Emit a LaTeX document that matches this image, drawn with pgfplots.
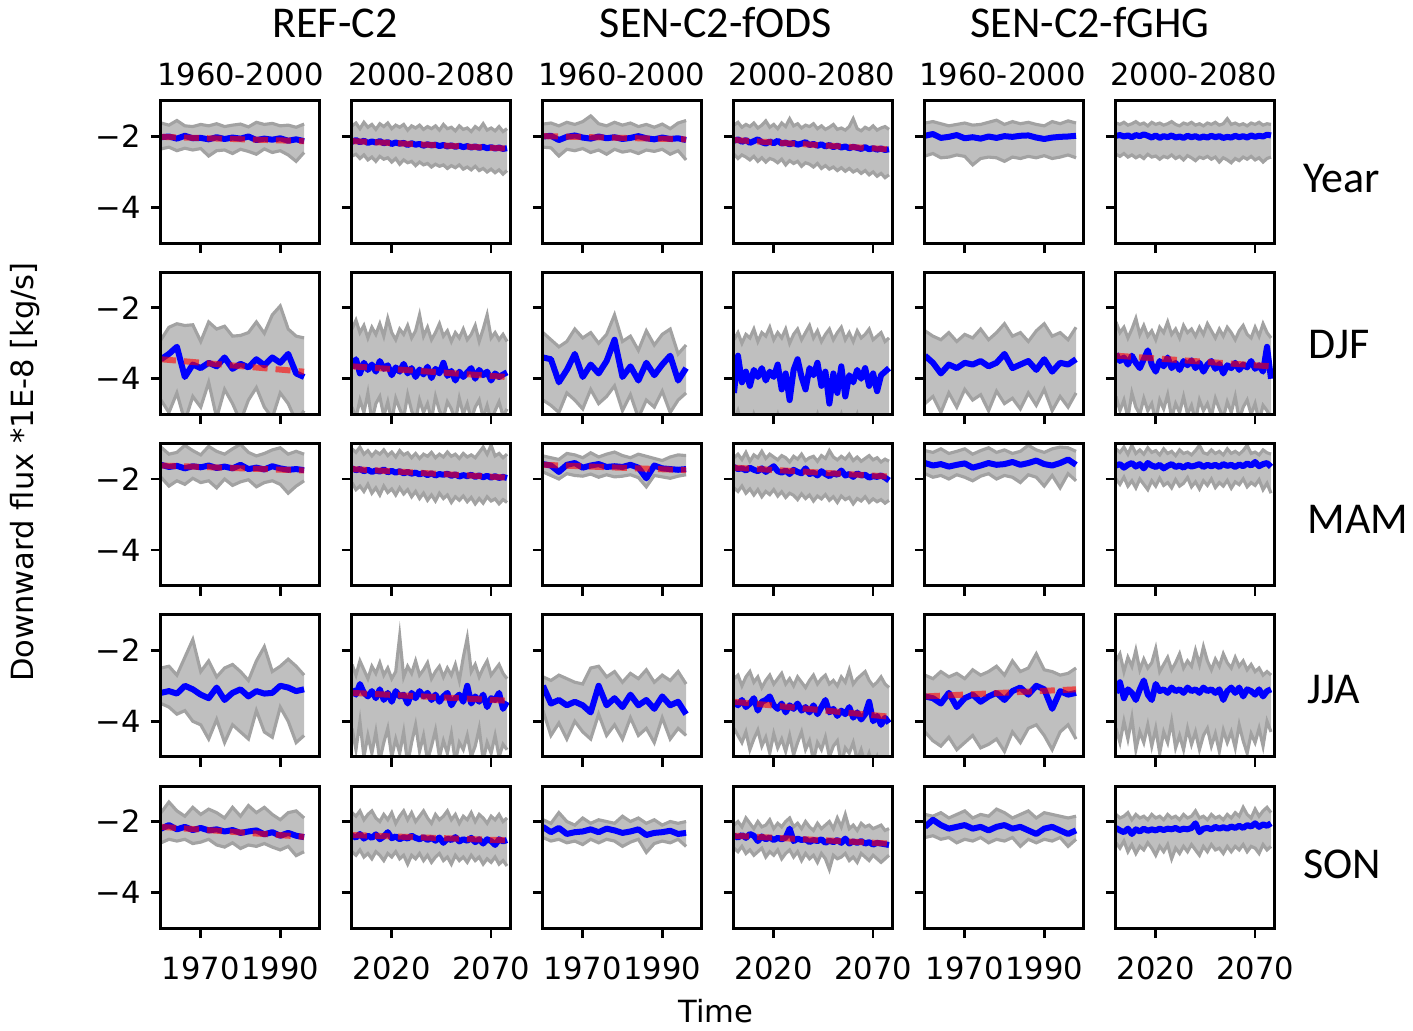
\documentclass[border=0pt]{standalone}
\usepackage{fontspec}
\setmainfont{DejaVu Sans}
\newfontfamily\carlito{Carlito}
\usepackage{pgfplots}
\usepackage{pgfplotstable}
\pgfplotsset{compat=1.18}
\usepgfplotslibrary{groupplots,fillbetween}
\usetikzlibrary{calc}
\definecolor{bandfill}{RGB}{191,191,191}
\definecolor{edgegray}{RGB}{162,162,162}
\newcommand\tickfont{\fontsize{10.7}{12.8}\selectfont}
\newcommand\bigfont{\carlito\fontsize{15.4}{18}\selectfont}

% ---------------- Year ----------------
\pgfplotstableread{
x b l h
1960 -2.02 -2.35 -1.62
1962 -2.00 -2.30 -1.68
1964 -2.06 -2.40 -1.55
1966 -1.98 -2.33 -1.70
1968 -2.05 -2.38 -1.72
1970 -2.04 -2.34 -1.66
1972 -2.08 -2.55 -1.70
1974 -2.02 -2.40 -1.64
1976 -2.07 -2.38 -1.72
1978 -2.03 -2.48 -1.68
1980 -2.06 -2.36 -1.65
1982 -2.00 -2.42 -1.73
1984 -2.10 -2.50 -1.60
1986 -2.06 -2.35 -1.66
1988 -2.09 -2.45 -1.63
1990 -2.05 -2.40 -1.70
1992 -2.12 -2.52 -1.68
1994 -2.08 -2.70 -1.74
1996 -2.13 -2.45 -1.65
}\tYa
\pgfplotstableread{
x b l h
2000 -2.15 -2.55 -1.70
2002 -2.10 -2.50 -1.62
2004 -2.16 -2.62 -1.78
2006 -2.12 -2.52 -1.60
2008 -2.18 -2.66 -1.74
2010 -2.14 -2.58 -1.66
2012 -2.17 -2.70 -1.80
2014 -2.13 -2.56 -1.64
2016 -2.19 -2.64 -1.72
2018 -2.16 -2.60 -1.62
2020 -2.21 -2.72 -1.78
2022 -2.17 -2.62 -1.68
2024 -2.20 -2.78 -1.74
2026 -2.18 -2.66 -1.66
2028 -2.24 -2.74 -1.82
2030 -2.19 -2.70 -1.70
2032 -2.23 -2.82 -1.76
2034 -2.21 -2.72 -1.68
2036 -2.26 -2.80 -1.80
2038 -2.22 -2.76 -1.72
2040 -2.25 -2.86 -1.78
2042 -2.23 -2.78 -1.70
2044 -2.27 -2.84 -1.82
2046 -2.24 -2.80 -1.66
2048 -2.28 -2.90 -1.78
2050 -2.25 -2.82 -1.74
2052 -2.29 -2.88 -1.84
2054 -2.26 -2.80 -1.70
2056 -2.30 -2.92 -1.80
2058 -2.27 -2.86 -1.76
2060 -2.31 -2.94 -1.86
2062 -2.28 -2.84 -1.72
2064 -2.32 -2.96 -1.80
2066 -2.29 -2.90 -1.64
2068 -2.33 -3.00 -1.82
2070 -2.30 -2.92 -1.76
2072 -2.34 -3.02 -1.84
2074 -2.31 -2.94 -1.72
2076 -2.35 -3.06 -1.86
2078 -2.33 -2.96 -1.78
}\tYb
\pgfplotstableread{
x b l h
1960 -2.00 -2.30 -1.65
1962 -1.98 -2.32 -1.62
1964 -2.10 -2.55 -1.70
1966 -2.01 -2.36 -1.60
1968 -1.97 -2.40 -1.66
1970 -2.03 -2.34 -1.58
1972 -2.06 -2.45 -1.42
1974 -2.00 -2.38 -1.64
1976 -2.05 -2.50 -1.70
1978 -2.02 -2.36 -1.60
1980 -2.07 -2.44 -1.68
1982 -2.04 -2.40 -1.62
1984 -1.99 -2.48 -1.72
1986 -2.05 -2.38 -1.66
1988 -2.08 -2.42 -1.74
1990 -2.03 -2.36 -1.65
1992 -2.07 -2.50 -1.78
1994 -2.05 -2.40 -1.62
1996 -2.10 -2.66 -1.55
}\tYc
\pgfplotstableread{
x b l h
2000 -2.12 -2.50 -1.68
2002 -2.08 -2.62 -1.60
2004 -2.15 -2.52 -1.74
2006 -2.10 -2.58 -1.66
2008 -2.18 -2.66 -1.72
2010 -2.13 -2.56 -1.62
2012 -2.08 -2.70 -1.76
2014 -2.16 -2.60 -1.68
2016 -2.20 -2.72 -1.56
2018 -2.14 -2.62 -1.74
2020 -2.19 -2.66 -1.66
2022 -2.12 -2.74 -1.78
2024 -2.20 -2.64 -1.62
2026 -2.17 -2.80 -1.72
2028 -2.22 -2.68 -1.50
2030 -2.18 -2.76 -1.70
2032 -2.23 -2.70 -1.64
2034 -2.20 -2.84 -1.76
2036 -2.16 -2.74 -1.68
2038 -2.24 -2.78 -1.72
2040 -2.21 -2.86 -1.64
2042 -2.26 -2.76 -1.78
2044 -2.22 -2.90 -1.70
2046 -2.28 -2.82 -1.80
2048 -2.24 -2.92 -1.74
2050 -2.30 -2.86 -1.66
2052 -2.26 -2.96 -1.80
2054 -2.31 -2.88 -1.76
2056 -2.28 -2.98 -1.82
2058 -2.33 -2.90 -1.72
2060 -2.29 -3.00 -1.50
2062 -2.32 -2.94 -1.78
2064 -2.35 -3.04 -1.84
2066 -2.30 -2.96 -1.74
2068 -2.36 -3.08 -1.80
2070 -2.33 -3.00 -1.70
2072 -2.37 -3.12 -1.82
2074 -2.34 -3.04 -1.76
2076 -2.38 -3.16 -1.72
2078 -2.36 -3.08 -1.80
}\tYd
\pgfplotstableread{
x b l h
1960 -1.98 -2.55 -1.62
1962 -1.93 -2.48 -1.58
1964 -2.04 -2.60 -1.64
1966 -2.01 -2.58 -1.70
1968 -1.96 -2.52 -1.66
1970 -2.05 -2.56 -1.62
1972 -2.02 -2.80 -1.68
1974 -2.06 -2.62 -1.66
1976 -2.00 -2.58 -1.60
1978 -2.04 -2.60 -1.54
1980 -1.99 -2.70 -1.66
1982 -2.01 -2.58 -1.58
1984 -1.98 -2.62 -1.64
1986 -1.97 -2.56 -1.60
1988 -2.03 -2.60 -1.66
1990 -2.07 -2.54 -1.70
1992 -2.03 -2.62 -1.58
1994 -2.01 -2.58 -1.64
1996 -2.00 -2.52 -1.56
1998 -1.98 -2.60 -1.62
}\tYe
\pgfplotstableread{
x b l h
2000 -1.98 -2.50 -1.62
2002 -1.96 -2.56 -1.66
2004 -2.00 -2.48 -1.60
2006 -1.97 -2.58 -1.68
2008 -2.02 -2.52 -1.64
2010 -1.96 -2.60 -1.58
2012 -1.99 -2.54 -1.66
2014 -1.94 -2.62 -1.62
2016 -1.98 -2.50 -1.70
2018 -2.03 -2.58 -1.60
2020 -1.97 -2.55 -1.66
2022 -2.04 -2.64 -1.62
2024 -1.99 -2.56 -1.68
2026 -2.02 -2.60 -1.64
2028 -1.97 -2.52 -1.58
2030 -2.03 -2.62 -1.66
2032 -2.00 -2.56 -1.70
2034 -2.04 -2.66 -1.62
2036 -1.98 -2.54 -1.66
2038 -2.02 -2.60 -1.60
2040 -1.99 -2.68 -1.68
2042 -2.04 -2.58 -1.64
2044 -2.00 -2.62 -1.70
2046 -2.03 -2.56 -1.62
2048 -1.98 -2.64 -1.66
2050 -2.02 -2.58 -1.60
2052 -1.99 -2.72 -1.68
2054 -2.04 -2.60 -1.64
2056 -2.01 -2.66 -1.50
2058 -2.03 -2.74 -1.66
2060 -1.98 -2.62 -1.62
2062 -2.02 -2.68 -1.68
2064 -1.99 -2.58 -1.64
2066 -2.03 -2.64 -1.70
2068 -1.97 -2.56 -1.62
2070 -2.01 -2.66 -1.66
2072 -1.98 -2.60 -1.60
2074 -2.00 -2.72 -1.68
2076 -1.95 -2.62 -1.64
2078 -1.97 -2.58 -1.66
}\tYf
% ---------------- DJF ----------------
\pgfplotstableread{
x b l h
1960 -3.45 -4.60 -2.90
1962 -3.30 -4.95 -2.55
1964 -3.10 -4.40 -2.45
1966 -3.95 -5.20 -2.50
1968 -3.60 -4.50 -2.48
1970 -3.70 -4.80 -2.95
1972 -3.55 -4.10 -2.40
1974 -3.65 -5.10 -2.60
1976 -3.40 -4.30 -2.52
1978 -3.72 -4.70 -2.80
1980 -3.58 -5.20 -2.78
1982 -3.68 -4.60 -2.70
1984 -3.45 -4.25 -2.40
1986 -3.62 -4.80 -2.72
1988 -3.40 -5.10 -2.20
1990 -3.55 -4.40 -1.95
1992 -3.30 -4.70 -2.60
1994 -3.85 -5.20 -2.80
1996 -3.95 -4.90 -2.85
}\tDa
\pgfplotstableread{
x b l h
2000 -3.70 -4.80 -2.60
2002 -3.45 -5.10 -2.35
2004 -3.85 -4.60 -2.70
2006 -3.55 -4.95 -2.50
2008 -3.75 -4.40 -2.85
2010 -3.60 -5.20 -2.55
2012 -3.80 -4.70 -2.75
2014 -3.50 -4.50 -2.45
2016 -3.72 -5.05 -2.80
2018 -3.62 -4.65 -2.30
2020 -3.90 -5.20 -2.70
2022 -3.68 -4.55 -2.90
2024 -3.80 -4.85 -2.60
2026 -3.58 -5.10 -2.75
2028 -3.85 -4.45 -2.50
2030 -3.70 -4.90 -2.85
2032 -3.95 -5.20 -2.65
2034 -3.74 -4.60 -2.20
2036 -3.88 -4.95 -2.80
2038 -3.66 -4.70 -2.55
2040 -3.98 -5.15 -2.90
2042 -3.72 -4.50 -2.70
2044 -3.85 -4.90 -2.45
2046 -3.55 -5.10 -2.80
2048 -3.92 -4.65 -2.65
2050 -3.78 -4.85 -2.95
2052 -4.05 -5.20 -2.70
2054 -3.80 -4.55 -2.85
2056 -3.95 -5.00 -2.60
2058 -3.82 -4.70 -2.90
2060 -3.70 -5.15 -2.75
2062 -4.00 -4.80 -2.50
2064 -3.75 -4.60 -2.95
2066 -3.90 -5.10 -2.60
2068 -3.80 -4.75 -2.20
2070 -4.05 -5.20 -2.85
2072 -3.85 -4.90 -2.70
2074 -3.95 -4.65 -2.90
2076 -3.88 -5.05 -2.75
2078 -3.82 -4.85 -2.95
}\tDb
\pgfplotstableread{
x b l h
1960 -3.40 -4.60 -2.70
1962 -3.45 -4.75 -2.90
1964 -4.10 -4.95 -3.10
1966 -3.75 -4.40 -2.95
1968 -3.30 -4.60 -2.60
1970 -3.95 -4.85 -2.85
1972 -3.60 -4.30 -2.70
1974 -3.85 -4.70 -3.00
1976 -3.50 -4.50 -2.75
1978 -2.90 -4.20 -2.20
1980 -3.95 -4.90 -2.95
1982 -3.65 -4.45 -2.80
1984 -4.05 -5.10 -3.20
1986 -3.55 -4.60 -2.65
1988 -3.90 -4.80 -3.05
1990 -3.60 -4.35 -2.75
1992 -3.35 -4.95 -2.60
1994 -4.05 -4.60 -3.30
1996 -3.70 -4.40 -3.05
}\tDc
\pgfplotstableread{
x b l h
2000 -4.40 -5.20 -2.90
2002 -3.35 -4.90 -2.70
2004 -4.10 -5.30 -3.00
2006 -3.80 -5.10 -2.75
2008 -4.20 -5.40 -2.85
2010 -3.75 -5.00 -2.60
2012 -3.95 -5.30 -2.95
2014 -3.70 -5.20 -2.70
2016 -4.05 -5.40 -2.80
2018 -3.80 -5.10 -2.55
2020 -3.95 -5.30 -2.90
2022 -3.60 -5.00 -2.70
2024 -4.30 -5.40 -2.85
2026 -3.85 -5.20 -2.60
2028 -4.60 -5.50 -3.00
2030 -3.75 -5.10 -2.75
2032 -3.45 -5.30 -2.60
2034 -3.95 -5.20 -2.90
2036 -4.30 -5.40 -2.70
2038 -3.70 -5.10 -2.50
2040 -3.90 -5.30 -2.85
2042 -3.55 -5.00 -2.65
2044 -4.20 -5.40 -2.95
2046 -3.80 -5.20 -2.75
2048 -4.70 -5.50 -2.60
2050 -3.85 -5.10 -2.90
2052 -4.40 -5.30 -2.70
2054 -3.65 -5.00 -2.55
2056 -4.50 -5.40 -2.90
2058 -3.90 -5.20 -2.70
2060 -4.10 -5.30 -2.95
2062 -3.75 -5.00 -2.65
2064 -4.00 -5.40 -2.85
2066 -3.70 -5.10 -2.75
2068 -4.20 -5.30 -2.60
2070 -3.85 -5.20 -2.90
2072 -4.35 -5.40 -2.80
2074 -3.90 -5.10 -2.70
2076 -3.80 -5.30 -2.95
2078 -3.70 -5.10 -2.85
}\tDd
\pgfplotstableread{
x b l h
1960 -3.35 -4.70 -2.65
1962 -3.55 -4.50 -2.80
1964 -3.85 -4.95 -2.90
1966 -3.60 -4.40 -2.70
1968 -3.70 -4.80 -2.95
1970 -3.55 -4.30 -2.75
1972 -3.60 -4.60 -2.85
1974 -3.50 -4.45 -2.60
1976 -3.65 -4.90 -2.90
1978 -3.55 -4.35 -2.70
1980 -3.30 -4.70 -2.45
1982 -3.70 -4.55 -2.80
1984 -3.60 -4.85 -2.70
1986 -3.50 -4.40 -2.95
1988 -3.75 -4.75 -2.65
1990 -3.45 -4.30 -2.45
1992 -3.80 -4.90 -2.80
1994 -3.55 -4.50 -2.70
1996 -3.60 -4.80 -2.90
1998 -3.45 -4.40 -2.55
}\tDe
\pgfplotstableread{
x b l h
2000 -3.30 -4.50 -2.40
2002 -3.50 -4.90 -2.70
2004 -3.40 -4.60 -2.55
2006 -3.60 -5.10 -2.85
2008 -3.35 -4.40 -2.60
2010 -3.55 -4.80 -2.30
2012 -3.70 -5.00 -2.75
2014 -3.45 -4.55 -2.50
2016 -3.20 -4.90 -2.80
2018 -3.60 -4.70 -2.65
2020 -3.80 -5.20 -2.90
2022 -3.50 -4.60 -2.55
2024 -3.65 -4.85 -2.70
2026 -3.40 -4.45 -2.40
2028 -3.70 -5.10 -2.75
2030 -3.55 -4.70 -2.60
2032 -3.75 -4.95 -2.85
2034 -3.50 -4.50 -2.50
2036 -3.62 -5.00 -2.70
2038 -3.48 -4.75 -2.60
2040 -3.70 -5.20 -2.80
2042 -3.55 -4.60 -2.55
2044 -3.80 -4.90 -2.75
2046 -3.60 -4.70 -2.45
2048 -3.50 -5.05 -2.65
2050 -3.72 -4.55 -2.85
2052 -3.58 -4.85 -2.60
2054 -3.85 -5.10 -2.80
2056 -3.62 -4.65 -2.55
2058 -3.70 -4.95 -2.70
2060 -3.55 -4.50 -2.90
2062 -3.75 -5.15 -2.65
2064 -3.60 -4.80 -2.50
2066 -3.68 -4.60 -2.75
2068 -3.50 -5.00 -2.85
2070 -3.72 -4.70 -2.55
2072 -3.62 -5.20 -2.80
2074 -3.80 -4.75 -2.45
2076 -3.10 -4.90 -2.70
2078 -4.00 -5.10 -2.85
}\tDf
% ---------------- MAM ----------------
\pgfplotstableread{
x b l h
1960 -1.60 -1.95 -1.10
1962 -1.66 -2.20 -1.30
1964 -1.63 -2.05 -1.25
1966 -1.70 -2.15 -1.05
1968 -1.64 -1.98 -1.20
1970 -1.67 -2.10 -1.32
1972 -1.62 -2.05 -1.08
1974 -1.69 -2.25 -1.22
1976 -1.65 -2.00 -1.30
1978 -1.70 -2.18 -1.15
1980 -1.60 -2.08 -1.02
1982 -1.72 -2.02 -1.25
1984 -1.68 -2.22 -1.35
1986 -1.73 -2.10 -1.28
1988 -1.64 -2.05 -1.18
1990 -1.70 -2.15 -1.12
1992 -1.74 -2.40 -1.30
1994 -1.72 -2.20 -1.22
1996 -1.75 -2.05 -1.30
}\tMa
\pgfplotstableread{
x b l h
2000 -1.70 -2.10 -1.15
2002 -1.75 -2.30 -1.25
2004 -1.72 -2.20 -1.10
2006 -1.78 -2.35 -1.30
2008 -1.74 -2.15 -1.20
2010 -1.80 -2.40 -1.35
2012 -1.76 -2.25 -1.22
2014 -1.79 -2.45 -1.30
2016 -1.73 -2.20 -1.18
2018 -1.81 -2.38 -1.34
2020 -1.77 -2.28 -1.24
2022 -1.82 -2.45 -1.38
2024 -1.78 -2.25 -1.20
2026 -1.84 -2.42 -1.32
2028 -1.80 -2.30 -1.26
2030 -1.85 -2.50 -1.40
2032 -1.82 -2.35 -1.28
2034 -1.87 -2.55 -1.42
2036 -1.83 -2.40 -1.30
2038 -1.89 -2.60 -1.36
2040 -1.84 -2.45 -1.25
2042 -1.90 -2.62 -1.40
2044 -1.86 -2.40 -1.30
2046 -1.88 -2.55 -1.38
2048 -1.85 -2.45 -1.24
2050 -1.91 -2.66 -1.36
2052 -1.87 -2.50 -1.30
2054 -1.93 -2.60 -1.42
2056 -1.89 -2.48 -1.28
2058 -1.92 -2.64 -1.38
2060 -1.88 -2.52 -1.32
2062 -1.94 -2.70 -1.40
2064 -1.90 -2.55 -1.25
2066 -1.95 -2.68 -1.10
2068 -1.91 -2.50 -1.30
2070 -1.96 -2.62 -1.05
2072 -1.92 -2.56 -1.35
2074 -1.97 -2.70 -1.28
2076 -1.94 -2.58 -1.40
2078 -1.97 -2.66 -1.30
}\tMb
\pgfplotstableread{
x b l h
1960 -1.58 -1.80 -1.35
1962 -1.62 -1.90 -1.40
1964 -1.80 -2.00 -1.45
1966 -1.60 -1.85 -1.28
1968 -1.55 -1.90 -1.32
1970 -1.68 -1.92 -1.40
1972 -1.62 -1.86 -1.26
1974 -1.58 -1.95 -1.38
1976 -1.66 -1.88 -1.30
1978 -1.64 -1.94 -1.24
1980 -1.66 -1.92 -1.34
1982 -1.60 -1.88 -1.40
1984 -1.68 -1.96 -1.30
1986 -1.98 -2.22 -1.36
1988 -1.62 -1.90 -1.42
1990 -1.70 -1.94 -1.48
1992 -1.72 -1.98 -1.38
1994 -1.74 -1.92 -1.32
1996 -1.72 -1.88 -1.34
}\tMc
\pgfplotstableread{
x b l h
2000 -1.66 -2.25 -1.40
2002 -1.72 -2.35 -1.30
2004 -1.70 -2.20 -1.45
2006 -1.76 -2.40 -1.25
2008 -1.68 -2.28 -1.50
2010 -1.74 -2.45 -1.32
2012 -1.78 -2.30 -1.40
2014 -1.70 -2.50 -1.22
2016 -1.80 -2.35 -1.42
2018 -1.72 -2.44 -1.30
2020 -1.64 -2.30 -1.38
2022 -1.78 -2.48 -1.46
2024 -1.82 -2.36 -1.34
2026 -1.76 -2.52 -1.40
2028 -1.86 -2.40 -1.52
2030 -1.74 -2.46 -1.36
2032 -1.80 -2.58 -1.44
2034 -1.84 -2.42 -1.30
2036 -1.70 -2.55 -1.48
2038 -1.86 -2.45 -1.40
2040 -1.82 -2.62 -1.36
2042 -1.90 -2.48 -1.50
2044 -1.78 -2.56 -1.34
2046 -1.86 -2.44 -1.42
2048 -1.92 -2.60 -1.20
2050 -1.84 -2.50 -1.38
2052 -1.88 -2.66 -1.46
2054 -1.76 -2.48 -1.36
2056 -1.90 -2.58 -1.44
2058 -1.86 -2.52 -1.30
2060 -1.94 -2.70 -1.48
2062 -1.84 -2.55 -1.38
2064 -1.90 -2.62 -1.50
2066 -1.88 -2.50 -1.42
2068 -1.96 -2.66 -1.34
2070 -1.92 -2.56 -1.46
2072 -1.94 -2.64 -1.40
2074 -1.90 -2.58 -1.52
2076 -1.96 -2.68 -1.44
2078 -2.04 -2.60 -1.50
}\tMd
\pgfplotstableread{
x b l h
1960 -1.55 -1.85 -1.20
1962 -1.62 -1.95 -1.25
1964 -1.58 -1.90 -1.15
1966 -1.65 -2.00 -1.28
1968 -1.60 -1.88 -1.22
1970 -1.56 -1.95 -1.15
1972 -1.68 -2.05 -1.30
1974 -1.62 -1.92 -1.20
1976 -1.55 -1.85 -1.12
1978 -1.60 -2.00 -1.25
1980 -1.58 -1.90 -1.18
1982 -1.52 -1.95 -1.28
1984 -1.60 -2.10 -1.22
1986 -1.55 -1.88 -1.05
1988 -1.48 -1.95 -1.18
1990 -1.58 -2.20 -1.25
1992 -1.62 -1.90 -1.15
1994 -1.55 -2.25 -1.10
1996 -1.45 -1.85 -1.12
1998 -1.60 -2.05 -1.22
}\tMe
\pgfplotstableread{
x b l h
2000 -1.62 -2.00 -1.15
2002 -1.58 -2.15 -1.25
2004 -1.68 -1.95 -1.10
2006 -1.60 -2.20 -1.30
2008 -1.55 -2.05 -1.05
2010 -1.65 -2.25 -1.28
2012 -1.58 -2.00 -1.18
2014 -1.70 -2.15 -1.30
2016 -1.55 -2.30 -1.12
2018 -1.62 -2.05 -1.25
2020 -1.66 -2.20 -1.20
2022 -1.60 -1.98 -1.32
2024 -1.70 -2.18 -1.15
2026 -1.63 -2.10 -1.28
2028 -1.58 -2.25 -1.22
2030 -1.66 -2.02 -1.34
2032 -1.62 -2.20 -1.18
2034 -1.68 -2.12 -1.28
2036 -1.60 -1.96 -1.24
2038 -1.65 -2.22 -1.32
2040 -1.62 -2.08 -1.20
2042 -1.58 -2.28 -1.05
2044 -1.66 -2.05 -1.26
2046 -1.60 -2.18 -1.30
2048 -1.64 -2.00 -1.18
2050 -1.60 -2.24 -1.28
2052 -1.66 -2.10 -1.22
2054 -1.58 -2.20 -1.32
2056 -1.63 -2.04 -1.15
2058 -1.60 -2.26 -1.28
2060 -1.66 -2.08 -1.22
2062 -1.59 -2.16 -1.30
2064 -1.64 -2.00 -1.20
2066 -1.56 -2.22 -1.05
2068 -1.62 -2.10 -1.28
2070 -1.52 -2.18 -1.24
2072 -1.64 -2.02 -1.32
2074 -1.58 -2.30 -1.18
2076 -1.55 -2.12 -1.26
2078 -1.66 -2.40 -1.30
}\tMf
% ---------------- JJA ----------------
\pgfplotstableread{
x b l h
1960 -3.20 -3.50 -2.50
1962 -3.15 -3.60 -2.45
1964 -3.22 -3.80 -2.70
1966 -3.00 -3.70 -2.20
1968 -3.10 -4.00 -1.70
1970 -3.25 -4.10 -2.60
1972 -3.35 -4.50 -2.30
1974 -3.05 -3.95 -2.75
1976 -3.40 -4.60 -2.50
1978 -3.20 -4.10 -2.40
1980 -3.10 -4.30 -2.60
1982 -3.30 -4.50 -2.85
1984 -3.15 -3.70 -2.30
1986 -3.22 -4.30 -1.90
1988 -3.20 -4.45 -2.60
1990 -3.00 -3.60 -2.45
1992 -3.05 -4.00 -2.25
1994 -3.15 -4.60 -2.45
1996 -3.10 -4.40 -2.70
}\tJa
\pgfplotstableread{
x b l h
2000 -3.10 -4.20 -2.40
2002 -3.25 -4.80 -2.70
2004 -2.95 -4.00 -2.30
2006 -3.20 -5.00 -2.55
2008 -3.30 -4.40 -2.80
2010 -3.15 -4.90 -2.45
2012 -3.35 -4.30 -2.65
2014 -3.10 -5.10 -2.35
2016 -3.40 -4.60 -2.70
2018 -3.20 -4.20 -2.50
2020 -3.45 -5.00 -2.80
2022 -3.15 -4.50 -2.60
2024 -3.30 -4.90 -1.60
2026 -3.25 -4.30 -2.75
2028 -3.50 -5.20 -2.45
2030 -3.20 -4.60 -2.65
2032 -3.35 -4.10 -2.30
2034 -3.15 -4.85 -2.70
2036 -3.30 -4.40 -2.55
2038 -3.20 -5.10 -2.35
2040 -3.40 -4.70 -2.80
2042 -3.25 -4.25 -2.60
2044 -3.45 -5.00 -2.45
2046 -3.30 -4.55 -2.75
2048 -3.20 -4.90 -2.50
2050 -3.55 -4.35 -2.70
2052 -3.35 -5.15 -2.40
2054 -3.25 -4.60 -2.85
2056 -3.45 -4.80 -2.20
2058 -3.00 -4.40 -1.65
2060 -3.50 -5.00 -2.60
2062 -3.30 -4.70 -2.40
2064 -3.45 -4.20 -2.75
2066 -3.25 -5.10 -2.50
2068 -3.60 -4.60 -2.30
2070 -3.35 -4.90 -2.70
2072 -3.40 -4.40 -2.55
2074 -3.20 -5.00 -2.40
2076 -3.65 -4.65 -2.65
2078 -3.45 -4.80 -2.80
}\tJb
\pgfplotstableread{
x b l h
1960 -3.00 -3.70 -2.75
1962 -3.50 -4.40 -2.85
1964 -3.40 -4.05 -2.70
1966 -3.55 -4.50 -2.80
1968 -3.45 -4.00 -2.90
1970 -3.55 -4.30 -2.95
1972 -3.75 -4.50 -2.50
1974 -3.00 -3.80 -2.45
1976 -3.55 -4.40 -2.75
1978 -3.35 -4.10 -2.60
1980 -3.60 -4.50 -2.90
1982 -3.25 -3.90 -2.65
1984 -3.55 -4.40 -2.80
1986 -3.40 -4.20 -2.55
1988 -3.65 -4.60 -2.90
1990 -3.30 -3.90 -2.70
1992 -3.55 -4.50 -2.85
1994 -3.45 -4.20 -2.60
1996 -3.80 -4.40 -2.95
}\tJc
\pgfplotstableread{
x b l h
2000 -3.45 -4.20 -2.80
2002 -3.55 -4.40 -2.70
2004 -3.40 -4.60 -3.00
2006 -3.60 -4.30 -2.75
2008 -3.50 -4.80 -2.60
2010 -3.35 -4.50 -2.90
2012 -3.70 -4.25 -2.75
2014 -3.45 -4.70 -3.05
2016 -3.40 -4.45 -2.85
2018 -3.30 -4.90 -2.70
2020 -3.55 -4.35 -2.95
2022 -3.65 -4.75 -2.80
2024 -3.50 -4.50 -2.65
2026 -3.75 -4.85 -2.95
2028 -3.55 -4.40 -2.80
2030 -3.65 -4.95 -3.00
2032 -3.50 -4.60 -2.75
2034 -3.70 -4.30 -2.90
2036 -3.60 -4.80 -3.05
2038 -3.75 -4.55 -2.85
2040 -3.55 -5.10 -2.70
2042 -3.80 -4.60 -2.95
2044 -3.60 -4.80 -2.80
2046 -3.40 -4.45 -2.70
2048 -3.75 -5.00 -2.95
2050 -3.65 -4.70 -2.85
2052 -3.85 -4.55 -3.00
2054 -3.70 -5.20 -2.75
2056 -3.80 -4.75 -2.90
2058 -3.60 -4.90 -2.55
2060 -3.90 -4.60 -2.95
2062 -3.75 -5.10 -2.80
2064 -3.95 -4.80 -2.70
2066 -3.80 -5.20 -2.60
2068 -3.45 -4.90 -2.85
2070 -4.00 -5.30 -3.00
2072 -3.85 -5.00 -2.90
2074 -4.10 -5.40 -2.75
2076 -3.90 -5.20 -2.95
2078 -4.05 -5.30 -3.05
}\tJd
\pgfplotstableread{
x b l h
1960 -3.30 -4.30 -2.70
1962 -3.35 -4.55 -2.80
1964 -3.50 -4.70 -2.60
1966 -3.20 -4.45 -2.75
1968 -3.60 -4.80 -2.65
1970 -3.35 -4.60 -2.80
1972 -3.25 -4.40 -2.55
1974 -3.45 -4.75 -2.70
1976 -3.30 -4.65 -2.60
1978 -3.20 -4.50 -2.45
1980 -3.40 -4.85 -2.70
1982 -3.15 -4.30 -2.30
1984 -3.05 -4.60 -2.60
1986 -3.25 -4.20 -2.50
1988 -3.00 -4.10 -2.10
1990 -3.10 -4.40 -2.55
1992 -3.65 -4.80 -2.60
1994 -3.15 -4.30 -2.70
1996 -3.25 -4.10 -2.65
1998 -3.20 -4.50 -2.50
}\tJe
\pgfplotstableread{
x b l h
2000 -3.20 -4.20 -2.30
2002 -2.90 -4.60 -2.10
2004 -3.35 -4.00 -2.60
2006 -3.10 -4.50 -2.20
2008 -3.20 -3.90 -2.45
2010 -3.40 -4.80 -2.00
2012 -3.10 -4.30 -2.55
2014 -2.85 -4.60 -2.25
2016 -3.25 -4.10 -2.50
2018 -3.40 -4.70 -2.35
2020 -2.95 -4.20 -1.95
2022 -3.15 -4.90 -2.60
2024 -3.10 -4.30 -2.40
2026 -3.20 -4.60 -2.20
2028 -3.05 -4.00 -2.55
2030 -3.15 -4.75 -2.35
2032 -3.10 -4.40 -2.10
2034 -3.20 -4.80 -2.50
2036 -3.05 -4.20 -2.30
2038 -3.15 -4.65 -2.45
2040 -3.10 -4.30 -2.00
2042 -3.20 -4.80 -2.40
2044 -3.05 -4.40 -1.90
2046 -3.15 -4.20 -2.30
2048 -3.10 -4.70 -2.55
2050 -3.20 -4.35 -2.25
2052 -3.10 -4.85 -2.45
2054 -3.40 -4.25 -2.10
2056 -3.15 -4.60 -2.35
2058 -3.05 -4.30 -2.50
2060 -3.20 -4.75 -2.20
2062 -3.05 -4.10 -2.45
2064 -3.30 -4.55 -2.30
2066 -3.10 -4.90 -2.55
2068 -3.15 -4.35 -2.40
2070 -3.25 -4.60 -2.60
2072 -3.10 -4.20 -2.50
2074 -3.30 -4.70 -2.70
2076 -3.15 -4.00 -2.60
2078 -3.10 -4.30 -2.70
}\tJf
% ---------------- SON ----------------
\pgfplotstableread{
x b l h
1960 -2.20 -2.60 -1.75
1962 -2.10 -2.50 -1.45
1964 -2.22 -2.55 -1.70
1966 -2.15 -2.50 -1.85
1968 -2.24 -2.62 -1.60
1970 -2.18 -2.58 -1.80
1972 -2.25 -2.50 -1.65
1974 -2.22 -2.66 -1.75
1976 -2.28 -2.72 -1.90
1978 -2.24 -2.60 -1.60
1980 -2.32 -2.76 -1.85
1982 -2.28 -2.66 -1.55
1984 -2.25 -2.70 -1.75
1986 -2.36 -2.62 -1.60
1988 -2.30 -2.72 -1.80
1990 -2.40 -2.80 -1.95
1992 -2.32 -2.70 -1.75
1994 -2.40 -2.96 -1.70
1996 -2.44 -2.85 -1.90
}\tSa
\pgfplotstableread{
x b l h
2000 -2.40 -2.85 -1.75
2002 -2.45 -2.95 -1.85
2004 -2.35 -2.80 -1.70
2006 -2.48 -3.00 -1.95
2008 -2.40 -2.90 -1.80
2010 -2.46 -3.05 -1.70
2012 -2.36 -2.85 -1.90
2014 -2.50 -2.95 -2.00
2016 -2.42 -3.10 -1.80
2018 -2.30 -2.90 -1.95
2020 -2.47 -3.00 -1.75
2022 -2.42 -2.85 -2.05
2024 -2.50 -3.05 -1.85
2026 -2.44 -2.95 -1.70
2028 -2.48 -3.20 -1.95
2030 -2.40 -2.95 -1.75
2032 -2.46 -3.05 -2.00
2034 -2.50 -2.90 -1.85
2036 -2.44 -3.10 -1.70
2038 -2.52 -2.95 -1.90
2040 -2.46 -3.15 -2.05
2042 -2.54 -3.00 -1.80
2044 -2.45 -2.90 -1.95
2046 -2.60 -3.10 -1.85
2048 -2.48 -3.00 -1.70
2050 -2.52 -3.20 -1.95
2052 -2.44 -2.95 -1.80
2054 -2.56 -3.10 -2.05
2056 -2.50 -3.00 -1.85
2058 -2.54 -3.15 -1.95
2060 -2.46 -2.95 -1.75
2062 -2.58 -3.10 -2.00
2064 -2.50 -3.00 -1.80
2066 -2.62 -3.20 -1.90
2068 -2.50 -3.05 -2.05
2070 -2.55 -3.15 -1.85
2072 -2.66 -3.00 -1.95
2074 -2.50 -3.20 -1.80
2076 -2.56 -3.10 -2.00
2078 -2.52 -3.25 -1.90
}\tSb
\pgfplotstableread{
x b l h
1960 -2.15 -2.45 -1.95
1962 -2.30 -2.55 -2.05
1964 -2.18 -2.50 -1.75
1966 -2.35 -2.60 -2.00
1968 -2.30 -2.55 -2.10
1970 -2.28 -2.65 -1.90
1972 -2.22 -2.50 -2.05
1974 -2.30 -2.60 -1.95
1976 -2.20 -2.50 -2.00
1978 -2.25 -2.55 -2.05
1980 -2.32 -2.70 -1.85
1982 -2.28 -2.58 -2.00
1984 -2.22 -2.50 -1.90
1986 -2.38 -2.87 -2.05
1988 -2.32 -2.62 -1.95
1990 -2.30 -2.55 -2.10
1992 -2.26 -2.60 -2.00
1994 -2.35 -2.50 -2.05
1996 -2.32 -2.70 -2.00
}\tSc
\pgfplotstableread{
x b l h
2000 -2.40 -2.75 -2.10
2002 -2.45 -2.85 -2.00
2004 -2.38 -2.70 -2.15
2006 -2.46 -2.90 -1.90
2008 -2.35 -2.80 -2.05
2010 -2.40 -2.95 -2.20
2012 -2.55 -2.85 -2.00
2014 -2.42 -2.75 -2.15
2016 -2.50 -3.00 -2.10
2018 -2.45 -2.85 -1.95
2020 -2.52 -2.95 -2.20
2022 -2.46 -2.80 -2.05
2024 -2.50 -3.05 -2.15
2026 -2.45 -2.90 -2.00
2028 -2.20 -2.80 -1.90
2030 -2.55 -3.00 -2.15
2032 -2.48 -2.85 -2.05
2034 -2.52 -3.10 -2.20
2036 -2.50 -2.90 -2.00
2038 -2.58 -3.05 -2.15
2040 -2.52 -2.95 -2.25
2042 -2.55 -3.15 -2.05
2044 -2.50 -2.90 -2.20
2046 -2.60 -3.05 -2.10
2048 -2.54 -3.35 -2.00
2050 -2.58 -2.95 -2.20
2052 -2.52 -3.05 -1.90
2054 -2.60 -3.00 -2.15
2056 -2.48 -2.90 -1.80
2058 -2.62 -3.10 -2.20
2060 -2.56 -3.00 -2.10
2062 -2.60 -3.15 -2.25
2064 -2.55 -2.90 -2.05
2066 -2.62 -3.00 -2.15
2068 -2.58 -3.10 -2.10
2070 -2.65 -2.95 -2.20
2072 -2.60 -3.05 -2.15
2074 -2.62 -3.15 -2.10
2076 -2.64 -3.05 -2.25
2078 -2.66 -2.95 -2.20
}\tSd
\pgfplotstableread{
x b l h
1960 -2.15 -2.45 -1.80
1962 -1.95 -2.40 -1.85
1964 -2.10 -2.50 -1.75
1966 -2.20 -2.45 -1.90
1968 -2.15 -2.60 -1.80
1970 -2.10 -2.50 -1.70
1972 -2.20 -2.55 -1.90
1974 -2.15 -2.45 -1.80
1976 -2.25 -2.60 -1.85
1978 -2.15 -2.50 -1.65
1980 -2.10 -2.55 -1.75
1982 -2.20 -2.45 -1.90
1984 -2.15 -2.70 -1.80
1986 -2.25 -2.50 -1.70
1988 -2.35 -2.60 -1.90
1990 -2.20 -2.50 -1.75
1992 -2.15 -2.55 -1.80
1994 -2.25 -2.45 -1.85
1996 -2.35 -2.70 -1.90
1998 -2.25 -2.50 -1.85
}\tSe
\pgfplotstableread{
x b l h
2000 -2.18 -2.60 -1.80
2002 -2.25 -2.75 -1.90
2004 -2.30 -2.55 -1.85
2006 -2.20 -2.85 -1.75
2008 -2.35 -2.65 -1.95
2010 -2.22 -2.90 -1.80
2012 -2.28 -2.70 -1.90
2014 -2.20 -2.80 -1.85
2016 -2.26 -2.60 -1.95
2018 -2.22 -2.75 -1.80
2020 -2.25 -2.95 -1.90
2022 -2.20 -2.70 -1.85
2024 -2.24 -2.85 -1.95
2026 -2.20 -2.65 -1.80
2028 -2.22 -3.05 -1.90
2030 -2.18 -2.75 -1.85
2032 -2.24 -2.90 -1.95
2034 -2.20 -2.70 -1.80
2036 -2.22 -2.85 -1.90
2038 -2.18 -2.65 -1.85
2040 -2.05 -2.80 -1.70
2042 -2.30 -2.95 -1.90
2044 -2.20 -2.70 -1.85
2046 -2.18 -2.85 -1.95
2048 -2.22 -2.65 -1.80
2050 -2.15 -2.80 -1.90
2052 -2.20 -2.75 -1.85
2054 -2.16 -2.90 -1.95
2056 -2.20 -2.70 -1.80
2058 -2.14 -2.85 -1.90
2060 -2.18 -2.70 -1.75
2062 -2.12 -2.80 -1.85
2064 -2.18 -2.65 -1.60
2066 -2.10 -2.85 -1.80
2068 -2.14 -2.70 -1.90
2070 -2.05 -2.75 -1.65
2072 -2.15 -2.90 -1.85
2074 -2.08 -2.65 -1.70
2076 -2.12 -2.80 -1.60
2078 -2.05 -2.70 -1.75
}\tSf

\newcommand\panel[1]{%
  \addplot[draw=edgegray, line width=1.1pt, mark=none, name path=hi] table[x=x,y=h]{#1};
  \addplot[draw=edgegray, line width=1.1pt, mark=none, name path=lo] table[x=x,y=l]{#1};
  \addplot[fill=bandfill, draw=none] fill between[of=hi and lo];
  \addplot[draw=blue, line width=2.1pt, mark=none, line join=round] table[x=x,y=b]{#1};
}
\newcommand\trend[4]{%
  \addplot[draw=red, opacity=0.6, line width=2.1pt, mark=none, dash pattern=on 5.25pt off 2.8pt] coordinates {(#1,#2) (#3,#4)};
}
\pgfplotsset{
  E/.style={xmin=1960, xmax=2000, xtick={1970,1990}, xticklabels={1970,1990}},
  L/.style={xmin=2000, xmax=2080, xtick={2020,2070}, xticklabels={2020,2070}},
  NX/.style={xticklabels={}},
  NY/.style={yticklabels={}},
}

\begin{document}
\begin{tikzpicture}
\begin{groupplot}[
  group style={group size=6 by 5, horizontal sep=11.2pt, vertical sep=10.24pt},
  scale only axis, width=55.65pt, height=49.7pt,
  ymin=-5, ymax=-1, ytick={-4,-2}, yticklabels={−4,−2},
  axis line style={line width=1.05pt},
  every tick/.style={black, line width=0.9pt},
  tick align=outside, major tick length=3.5pt,
  xtick pos=left, ytick pos=left,
  tick label style={font=\tickfont},
  xticklabel style={yshift=-3.2pt},
  axis on top,
]
% Year
\nextgroupplot[E,NX] \panel{\tYa} \trend{1960}{-2.01}{1996}{-2.13}
\nextgroupplot[L,NX,NY] \panel{\tYb} \trend{2000}{-2.13}{2078}{-2.34}
\nextgroupplot[E,NX,NY] \panel{\tYc} \trend{1960}{-1.99}{1996}{-2.08}
\nextgroupplot[L,NX,NY] \panel{\tYd} \trend{2000}{-2.10}{2078}{-2.36}
\nextgroupplot[E,NX,NY] \panel{\tYe}
\nextgroupplot[L,NX,NY] \panel{\tYf}
% DJF
\nextgroupplot[E,NX] \panel{\tDa} \trend{1960}{-3.45}{1996}{-3.80}
\nextgroupplot[L,NX,NY] \panel{\tDb} \trend{2000}{-3.65}{2078}{-3.95}
\nextgroupplot[E,NX,NY] \panel{\tDc}
\nextgroupplot[L,NX,NY] \panel{\tDd}
\nextgroupplot[E,NX,NY] \panel{\tDe}
\nextgroupplot[L,NX,NY] \panel{\tDf} \trend{2000}{-3.35}{2078}{-3.65}
% MAM
\nextgroupplot[E,NX] \panel{\tMa} \trend{1960}{-1.62}{1996}{-1.76}
\nextgroupplot[L,NX,NY] \panel{\tMb} \trend{2000}{-1.72}{2078}{-1.96}
\nextgroupplot[E,NX,NY] \panel{\tMc} \trend{1960}{-1.60}{1996}{-1.75}
\nextgroupplot[L,NX,NY] \panel{\tMd} \trend{2000}{-1.68}{2078}{-1.93}
\nextgroupplot[E,NX,NY] \panel{\tMe}
\nextgroupplot[L,NX,NY] \panel{\tMf}
% JJA
\nextgroupplot[E,NX] \panel{\tJa}
\nextgroupplot[L,NX,NY] \panel{\tJb} \trend{2000}{-3.20}{2078}{-3.42}
\nextgroupplot[E,NX,NY] \panel{\tJc}
\nextgroupplot[L,NX,NY] \panel{\tJd} \trend{2000}{-3.45}{2078}{-3.87}
\nextgroupplot[E,NX,NY] \panel{\tJe} \trend{1960}{-3.30}{1998}{-3.10}
\nextgroupplot[L,NX,NY] \panel{\tJf}
% SON
\nextgroupplot[E] \panel{\tSa} \trend{1960}{-2.15}{1996}{-2.43}
\nextgroupplot[L,NY] \panel{\tSb} \trend{2000}{-2.38}{2078}{-2.53}
\nextgroupplot[E,NY] \panel{\tSc}
\nextgroupplot[L,NY] \panel{\tSd} \trend{2000}{-2.40}{2078}{-2.62}
\nextgroupplot[E,NY] \panel{\tSe}
\nextgroupplot[L,NY] \panel{\tSf}
\end{groupplot}

\begin{scope}[shift={($(group c1r1.north west)+(-56.35pt,35.35pt)$)}, x=0.35pt, y=-0.35pt]
  \foreach \cx/\t in {240.5/1960-2000, 431.5/2000-2080, 622/1960-2000, 812/2000-2080, 1002.5/1960-2000, 1193.5/2000-2080}
    \node[anchor=base, inner sep=0, font=\tickfont] at (\cx,86) {\t};
  \node[anchor=base, inner sep=0, font=\bigfont] at (335,38) {REF-C2};
  \node[anchor=base, inner sep=0, font=\bigfont] at (716,38) {SEN-C2-fODS};
  \node[anchor=base, inner sep=0, font=\bigfont] at (1090,38) {SEN-C2-fGHG};
  \node[anchor=base west, inner sep=0, font=\bigfont] at (1303,192) {Year};
  \node[anchor=base west, inner sep=0, font=\bigfont] at (1308,358) {DJF};
  \node[anchor=base west, inner sep=0, font=\bigfont] at (1307,533) {MAM};
  \node[anchor=base west, inner sep=0, font=\bigfont] at (1307,703) {JJA};
  \node[anchor=base west, inner sep=0, font=\bigfont] at (1303,878) {SON};
  \node[anchor=base, inner sep=0, font=\tickfont] at (716,1022) {Time};
  \node[anchor=base, inner sep=0, rotate=90, font=\tickfont] at (34,472) {Downward flux *1E-8 [kg/s]};
  \pgfresetboundingbox
  \path[use as bounding box] (0,0) rectangle (1413,1030);
\end{scope}
\end{tikzpicture}
\end{document}
